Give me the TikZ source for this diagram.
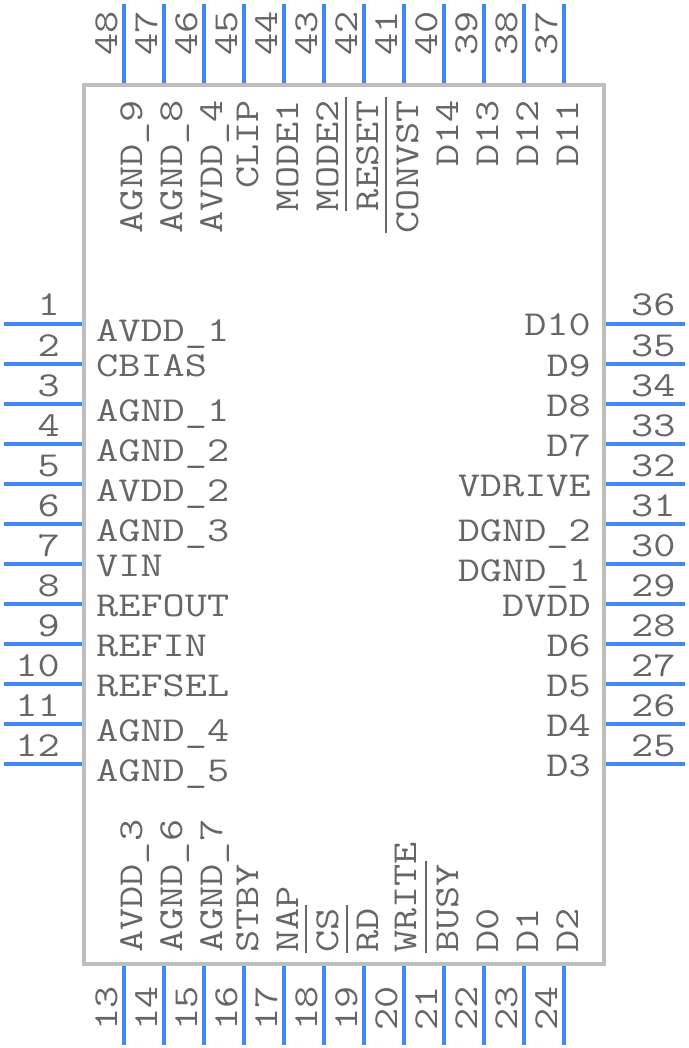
\documentclass[tikz,border=0pt]{standalone}
\usepackage{fontspec}
\setmonofont[FakeStretch=1.23]{Latin Modern Mono}
\usetikzlibrary{positioning}
\definecolor{pinblue}{HTML}{4287F5}
\definecolor{boxgray}{HTML}{BEBEBE}
\definecolor{textgray}{HTML}{666666}
\newcommand{\ovl}[1]{\vbox{\hrule height 2pt\kern 9pt\hbox{#1\kern 3pt}}\kern-3pt}
\tikzset{
  pin/.style = {draw = pinblue, line width = 4pt},
  chip/.style = {draw = boxgray, line width = 4pt, minimum width = 520pt, minimum height = 879pt, inner sep = 0pt},
  txt/.style = {text = textgray, inner sep = 0pt, font = \ttfamily\fontsize{35}{35}\selectfont},
}

\begin{document}
\begin{tikzpicture}[x = 1pt, y = -1pt]
    \useasboundingbox (0,0) rectangle (688,1048);
    \node [chip] (ic) at (344,524.5) {};
    % left and right pins
    \foreach \n in {1,...,12} {
      \pgfmathtruncatemacro{\ypos}{324+40*(\n-1)}
      \pgfmathtruncatemacro{\m}{37-\n}
      \coordinate (pin\n) at (4,\ypos);
      \coordinate (pin\m) at (685,\ypos);
      \draw [pin] (pin\n) -- (pin\n -| ic.west);
      \draw [pin] (pin\m) -- (pin\m -| ic.east);
      \node [txt, anchor = base east] (num\n) at (60,\ypos-8) {\n};
      \node [txt, anchor = base west] (num\m) at (631,\ypos-8) {\m};
    }
    % top and bottom pins
    \foreach \n in {13,...,24} {
      \pgfmathtruncatemacro{\xpos}{124+40*(\n-13)}
      \pgfmathtruncatemacro{\m}{61-\n}
      \coordinate (pin\n) at (\xpos,1045);
      \coordinate (pin\m) at (\xpos,4);
      \draw [pin] (pin\n) -- (pin\n |- ic.south);
      \draw [pin] (pin\m) -- (pin\m |- ic.north);
      \node [txt, rotate = 90, anchor = base west] (num\n) at (\xpos-7,1031) {\n};
      \node [txt, rotate = 90, anchor = base west] (num\m) at (\xpos-7,56) {\m};
    }
    % left labels
    \foreach \ypos/\name/\txt in {341/avdda/AVDD\_1, 376/cbias/CBIAS, 421/agnda/AGND\_1, 461/agndb/AGND\_2,
        501/avddb/AVDD\_2, 541/agndc/AGND\_3, 576/vin/VIN, 616/refout/REFOUT, 656/refin/REFIN,
        696/refsel/REFSEL, 741/agndd/AGND\_4, 781/agnde/AGND\_5}
      \node [txt, anchor = base west] (\name) at (96,\ypos) {\txt};
    % right labels
    \foreach \ypos/\name/\txt in {335/dten/D10, 376/dnine/D9, 416/deight/D8, 456/dseven/D7, 496/vdrive/VDRIVE,
        541/dgndb/DGND\_2, 581/dgnda/DGND\_1, 616/dvdd/DVDD, 656/dsix/D6, 696/dfive/D5, 736/dfour/D4, 776/dthree/D3}
      \node [txt, anchor = base east] (\name) at (591,\ypos) {\txt};
    % top labels
    \foreach \xpos/\name/\txt in {142/agndi/AGND\_9, 182/agndh/AGND\_8, 222/avddd/AVDD\_4, 258/clip/CLIP,
        298/modea/MODE1, 338/modeb/MODE2, 378/reset/\ovl{RESET}, 418/convst/\ovl{CONVST},
        458/dfourteen/D14, 498/dthirteen/D13, 538/dtwelve/D12, 578/deleven/D11}
      \node [txt, rotate = 90, anchor = base east] (\name) at (\xpos,100) {\txt};
    % bottom labels
    \foreach \xpos/\name/\txt in {142/avddc/AVDD\_3, 182/agndf/AGND\_6, 222/agndg/AGND\_7, 258/stby/STBY,
        298/nap/NAP, 338/cs/\ovl{CS}, 378/rd/\ovl{RD}, 416/write/WRITE, 458/busy/\ovl{BUSY},
        498/dzero/D0, 538/done/D1, 578/dtwo/D2}
      \node [txt, rotate = 90, anchor = base west] (\name) at (\xpos,953) {\txt};
  \end{tikzpicture}
\end{document}
